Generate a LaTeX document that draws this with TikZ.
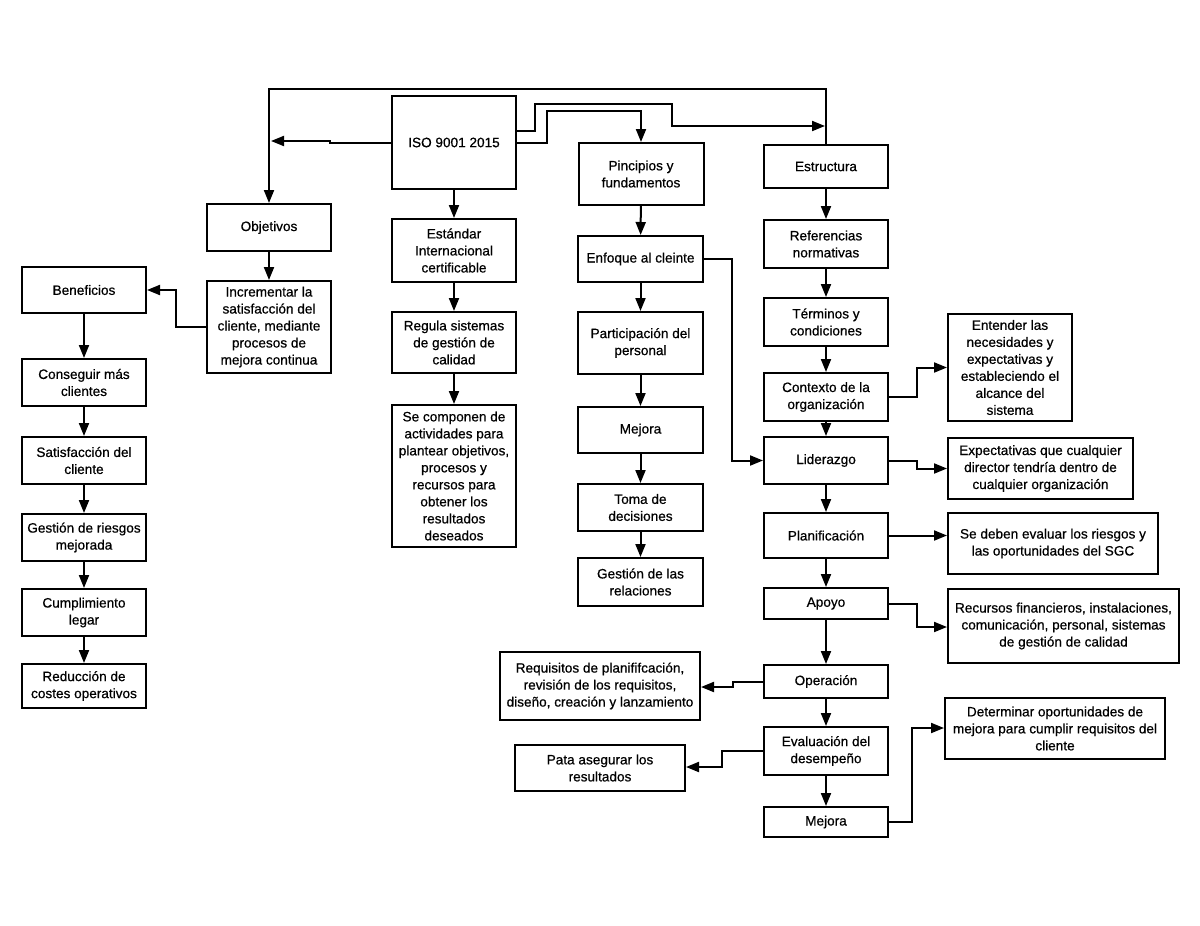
\documentclass[tikz,border=0pt]{standalone}
\usepackage{fontspec}
\setmainfont{Liberation Sans}[FakeBold=0.6]
\usetikzlibrary{arrows.meta}
\begin{document}
\begin{tikzpicture}[x=1pt,y=-1pt,
  box/.style={draw, line width=2pt, align=center, inner sep=0pt, font=\fontsize{13.6}{17}\selectfont},
  arr/.style={line width=2pt, line join=miter, -{Triangle[length=13pt,width=10pt]}}]
\useasboundingbox[fill=white] (0,0) rectangle (1200,926);

% column 1
\node[box, minimum width=124pt, minimum height=93pt] (iso) at (454,142.5) {ISO 9001 2015};
\node[box, minimum width=124pt, minimum height=47pt] (obj) at (269,227.5) {Objetivos};
\node[box, minimum width=124pt, minimum height=92pt] (inc) at (269,327) {Incrementar la\\satisfacción del\\cliente, mediante\\procesos de\\mejora continua};
\node[box, minimum width=124pt, minimum height=46pt] (ben) at (84,290) {Beneficios};
\node[box, minimum width=124pt, minimum height=47pt] (cons) at (84,382.5) {Conseguir más\\clientes};
\node[box, minimum width=124pt, minimum height=47pt] (sat) at (84,460.5) {Satisfacción del\\cliente};
\node[box, minimum width=124pt, minimum height=47pt] (ges) at (84,537.5) {Gestión de riesgos\\mejorada};
\node[box, minimum width=124pt, minimum height=47pt] (cum) at (84,612.5) {Cumplimiento\\legar};
\node[box, minimum width=124pt, minimum height=44pt] (red) at (84,686) {Reducción de\\costes operativos};

% ISO column
\node[box, minimum width=124pt, minimum height=63pt] (est) at (454,250.5) {Estándar\\Internacional\\certificable};
\node[box, minimum width=124pt, minimum height=61pt] (reg) at (454,342.5) {Regula sistemas\\de gestión de\\calidad};
\node[box, minimum width=124pt, minimum height=142pt] (comp) at (454,476) {Se componen de\\actividades para\\plantear objetivos,\\procesos y\\recursos para\\obtener los\\resultados\\deseados};

% principios column
\node[box, minimum width=125pt, minimum height=62pt] (pri) at (641,174) {Pincipios y\\fundamentos};
\node[box, minimum width=125pt, minimum height=46pt] (enf) at (640.5,259) {Enfoque al cleinte};
\node[box, minimum width=125pt, minimum height=62pt] (par) at (640.5,343) {Participación del\\personal};
\node[box, minimum width=125pt, minimum height=46pt] (mej) at (640.5,430) {Mejora};
\node[box, minimum width=125pt, minimum height=47pt] (tom) at (640.5,507.5) {Toma de\\decisiones};
\node[box, minimum width=125pt, minimum height=48pt] (gre) at (640.5,582) {Gestión de las\\relaciones};

% estructura column
\node[box, minimum width=124pt, minimum height=43pt] (estr) at (826,166.5) {Estructura};
\node[box, minimum width=124pt, minimum height=48pt] (ref) at (826,244) {Referencias\\normativas};
\node[box, minimum width=124pt, minimum height=48pt] (ter) at (826,322) {Términos y\\condiciones};
\node[box, minimum width=124pt, minimum height=48pt] (con) at (826,397) {Contexto de la\\organización};
\node[box, minimum width=124pt, minimum height=47pt] (lid) at (826,460.5) {Liderazgo};
\node[box, minimum width=124pt, minimum height=45pt] (pla) at (826,535.5) {Planificación};
\node[box, minimum width=124pt, minimum height=31pt] (apo) at (826,603.5) {Apoyo};
\node[box, minimum width=124pt, minimum height=33pt] (ope) at (826,681.5) {Operación};
\node[box, minimum width=124pt, minimum height=48pt] (eva) at (826,751) {Evaluación del\\desempeño};
\node[box, minimum width=124pt, minimum height=30pt] (mej2) at (826,822) {Mejora};

% right side boxes
\node[box, minimum width=124pt, minimum height=107pt] (ent) at (1010,367.5) {Entender las\\necesidades y\\expectativas y\\estableciendo el\\alcance del\\sistema};
\node[box, minimum width=185pt, minimum height=61pt] (exp) at (1040.5,468.5) {Expectativas que cualquier\\director tendría dentro de\\cualquier organización};
\node[box, minimum width=210pt, minimum height=61pt] (sed) at (1053,543.5) {Se deben evaluar los riesgos y\\las oportunidades del SGC};
\node[box, minimum width=231pt, minimum height=74pt] (rec) at (1063.5,626) {Recursos financieros, instalaciones,\\comunicación, personal, sistemas\\de gestión de calidad};
\node[box, minimum width=220pt, minimum height=61pt] (det) at (1055,728.5) {Determinar oportunidades de\\mejora para cumplir requisitos del\\cliente};
\node[box, minimum width=200pt, minimum height=68pt] (req) at (600,686) {Requisitos de planififcación,\\revisión de los requisitos,\\diseño, creación y lanzamiento};
\node[box, minimum width=170pt, minimum height=46pt] (para) at (600,768) {Pata asegurar los\\resultados};

% junction coordinates
\coordinate (j1) at (271,141);
\coordinate (j2) at (825,126);

% top connectors
\draw[arr] (estr.north) -- (826,89) -- (269,89) -- (obj.north);
\draw[arr] (iso.west |- 0,143) -- (330,143) -- (330,141) -- (j1);
\draw[arr] (iso.east |- 0,131) -- (535,131) -- (535,104) -- (672,104) -- (672,126) -- (j2);
\draw[arr] (iso.east |- 0,143) -- (547,143) -- (547,111) -- (641,111) -- (pri.north);

% left
\draw[arr] (obj) -- (inc);
\draw[arr] (inc.west) -- (176,327) |- (ben.east);
\draw[arr] (ben) -- (cons);
\draw[arr] (cons) -- (sat);
\draw[arr] (sat) -- (ges);
\draw[arr] (ges) -- (cum);
\draw[arr] (cum) -- (red);

% ISO column
\draw[arr] (iso) -- (est);
\draw[arr] (est) -- (reg);
\draw[arr] (reg) -- (comp);

% principios column
\draw[arr] (pri) -- (enf);
\draw[arr] (enf) -- (par);
\draw[arr] (par) -- (mej);
\draw[arr] (mej) -- (tom);
\draw[arr] (tom) -- (gre);
\draw[arr] (enf.east) -- (732,259) |- (lid.west);

% estructura column
\draw[arr] (estr) -- (ref);
\draw[arr] (ref) -- (ter);
\draw[arr] (ter) -- (con);
\draw[arr] (con) -- (lid);
\draw[arr] (lid) -- (pla);
\draw[arr] (pla) -- (apo);
\draw[arr] (apo) -- (ope);
\draw[arr] (ope) -- (eva);
\draw[arr] (eva) -- (mej2);

% side connectors
\draw[arr] (con.east) -- (917,397) |- (ent.west);
\draw[arr] (lid.east) -- (917,460.5) |- (exp.west);
\draw[arr] (pla.east) -- (pla.east -| sed.west);
\draw[arr] (apo.east) -- (917,603.5) -- (917,627) -- (rec.west |- 0,627);
\draw[arr] (ope.west) -- (733,681.5) -- (733,687) -- (req.east |- 0,687);
\draw[arr] (eva.west) -- (722,751) -- (722,767) -- (para.east |- 0,767);
\draw[arr] (mej2.east) -- (912,822) -- (912,728) -- (det.west |- 0,728);
\end{tikzpicture}
\end{document}
